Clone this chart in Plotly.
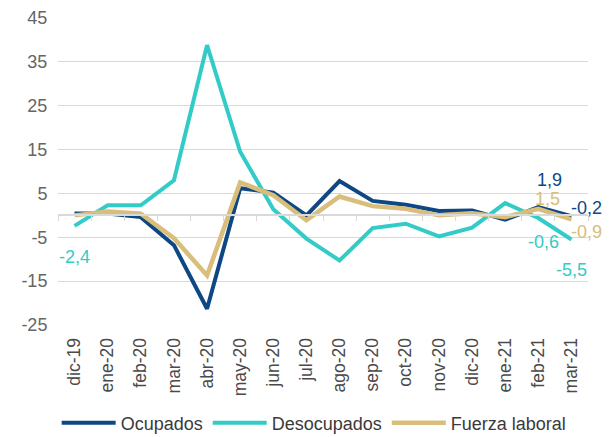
import plotly.graph_objects as go

months = ["dic-19", "ene-20", "feb-20", "mar-20", "abr-20", "may-20", "jun-20", "jul-20",
          "ago-20", "sep-20", "oct-20", "nov-20", "dic-20", "ene-21", "feb-21", "mar-21"]
ocupados = [0.4, 0.4, -0.4, -6.8, -21.3, 6.2, 5.2, 0.0, 7.8, 3.3, 2.4, 1.0, 1.1, -1.0, 1.9, -0.2]
desocupados = [-2.4, 2.3, 2.3, 8.0, 38.8, 14.5, 1.4, -5.3, -10.3, -2.9, -1.9, -4.8, -2.8, 2.8, -0.6, -5.5]
fuerza = [0.0, 0.9, 0.4, -5.2, -13.7, 7.5, 4.6, -1.1, 4.3, 2.1, 1.5, 0.0, 0.5, -0.4, 1.5, -0.9]
ytick_vals = [-25, -15, -5, 5, 15, 25, 35, 45]
ytick_text = ["-25", "-15", "-5", "5", "15", "25", "35", "45"]

C_OCU = "#0d4784"
C_DES = "#33cbc8"
C_FUE = "#d8bd7b"
FONT = "Liberation Sans, Arial, sans-serif"

fig = go.Figure()
series = [("Ocupados", ocupados, C_OCU, 4), ("Desocupados", desocupados, C_DES, 4),
          ("Fuerza laboral", fuerza, C_FUE, 4.5)]
for name, vals, col, w in series:
    fig.add_trace(go.Scatter(x=months, y=vals, name=name, mode="lines",
                             line=dict(color=col, width=w), hoverinfo="skip"))

# dummy trace so the zero-line category axis (with boundary ticks) is drawn
fig.add_trace(go.Scatter(x=months, y=[None] * len(months), xaxis="x2", mode="lines",
                         showlegend=False, hoverinfo="skip"))

def fmt(v):
    return f"{v:.1f}".replace(".", ",")

# (series values, color, index, xshift, yshift)
labels = [
    (desocupados, C_DES, 0, 0, -31),
    (ocupados, C_OCU, 14, 11, 27),
    (fuerza, C_FUE, 14, 9, 10),
    (desocupados, C_DES, 14, 5, -24),
    (ocupados, C_OCU, 15, 15, 8),
    (fuerza, C_FUE, 15, 15, -13),
    (desocupados, C_DES, 15, 0, -31),
]
for vals, col, i, xs, ys in labels:
    fig.add_annotation(x=months[i], y=vals[i], text=fmt(vals[i]), showarrow=False,
                       xshift=xs, yshift=ys, font=dict(color=col, size=18, family=FONT))

fig.update_layout(
    width=610, height=437,
    margin=dict(l=58, r=22, t=18, b=112, autoexpand=False),
    paper_bgcolor="white", plot_bgcolor="white",
    font=dict(family=FONT, color="#595959"),
    showlegend=True,
    legend=dict(orientation="h", xref="container", yref="container",
                x=0.515, xanchor="center", y=0.032, yanchor="middle",
                font=dict(size=18, color="#3a3a3a", family=FONT), itemwidth=54,
                tracegroupgap=0),
    xaxis=dict(type="category", categoryarray=months, range=[-0.5, len(months) - 0.5],
               showgrid=False, showline=False, ticks="outside", ticklen=5,
               tickcolor="rgba(0,0,0,0)", tickangle=-90, automargin=False,
               tickfont=dict(size=17.5, color="#4a4a4a"), zeroline=False),
    xaxis2=dict(type="category", categoryarray=months, range=[-0.5, len(months) - 0.5],
                overlaying="x", anchor="free", position=25 / 70, side="bottom",
                showline=True, linecolor="#d9d9d9", linewidth=1.5, ticks="outside",
                tickson="boundaries", ticklen=5, tickcolor="#d9d9d9", showticklabels=False,
                showgrid=False, zeroline=False, automargin=False),
    yaxis=dict(range=[-25, 45], tickvals=ytick_vals, ticktext=ytick_text, automargin=False,
               showgrid=True, gridcolor="#d9d9d9", gridwidth=1.2, zeroline=False,
               ticks="outside", ticklen=6, tickcolor="rgba(0,0,0,0)",
               showline=False, tickfont=dict(size=18, color="#666666")),
)

fig.write_html("out.html", config={"displayModeBar": False},
               post_script="document.body.style.margin='0';document.body.style.overflow='hidden';")
